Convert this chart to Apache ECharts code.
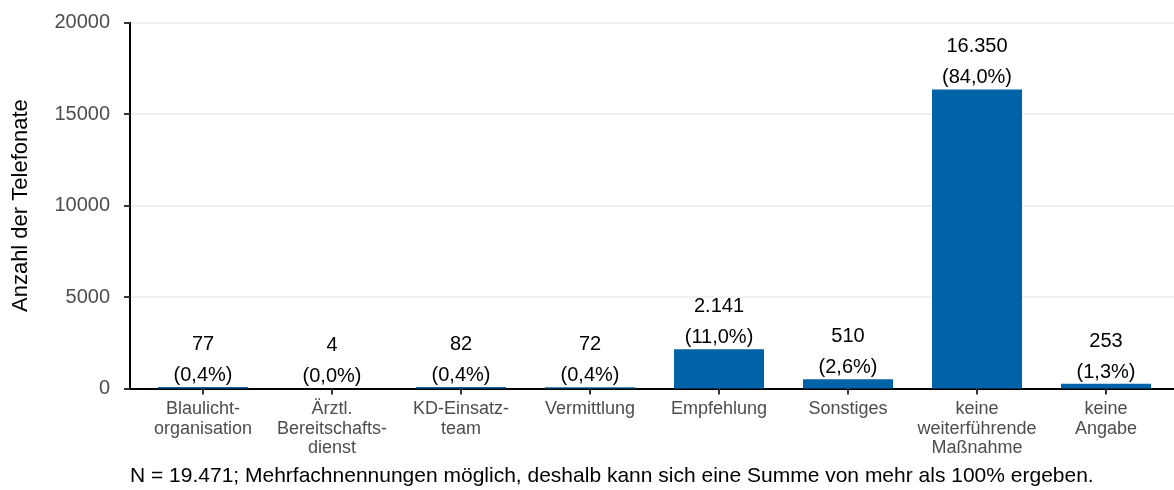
<!DOCTYPE html>
<html>
<head>
<meta charset="utf-8">
<script src="https://cdn.jsdelivr.net/npm/echarts@6/dist/echarts.min.js"></script>
<style>
  html, body { margin: 0; padding: 0; background: #fff; }
  #chart { width: 1174px; height: 490px; }
</style>
</head>
<body>
<div id="chart"></div>
<script>
var categories = [
  'Blaulicht-\norganisation',
  'Ärztl.\nBereitschafts-\ndienst',
  'KD-Einsatz-\nteam',
  'Vermittlung',
  'Empfehlung',
  'Sonstiges',
  'keine\nweiterführende\nMaßnahme',
  'keine\nAngabe'
];
var counts = [77, 4, 82, 72, 2141, 510, 16350, 253];
var yTicks = [0, 5000, 10000, 15000, 20000];
var totalN = 19471;
var footnote = 'N = 19.471; Mehrfachnennungen möglich, deshalb kann sich eine Summe von mehr als 100% ergeben.';

var fontFamily = '"Liberation Sans", Arial, sans-serif';

// 16350 -> "16.350"
function fmtCount(v) {
  return String(v).replace(/\B(?=(\d{3})+(?!\d))/g, '.');
}
// share of all calls, german decimal comma
function fmtPct(v) {
  return (v / totalN * 100).toFixed(1).replace('.', ',') + '%';
}

var positions = categories.map(function (c, i) { return i + 1; });

var chart = echarts.init(document.getElementById('chart'));

var option = {
  animation: false,
  textStyle: { fontFamily: fontFamily },
  grid: { left: 130, right: 0, top: 22.7, bottom: 490 - 388.5, outerBoundsMode: 'none', containLabel: false },
  xAxis: {
    type: 'value',
    min: 0.434,
    max: 8.527,
    axisLine: { show: true, onZero: false, lineStyle: { color: '#000', width: 2 } },
    axisTick: { show: true, customValues: positions, length: 6, lineStyle: { color: '#333', width: 2 } },
    splitLine: { show: false },
    axisLabel: {
      customValues: positions,
      formatter: function (v) { return categories[Math.round(v) - 1]; },
      color: '#4d4d4d',
      fontSize: 18,
      lineHeight: 19.5,
      margin: 11,
      verticalAlign: 'top',
      fontFamily: fontFamily
    }
  },
  yAxis: {
    type: 'value',
    min: yTicks[0],
    max: yTicks[yTicks.length - 1],
    interval: yTicks[1] - yTicks[0],
    name: 'Anzahl der Telefonate',
    nameLocation: 'middle',
    nameGap: 98,
    nameTextStyle: { color: '#000', fontSize: 22, fontFamily: fontFamily },
    axisLine: { show: true, lineStyle: { color: '#000', width: 2 } },
    axisTick: { show: true, length: 6, lineStyle: { color: '#333', width: 2 } },
    splitLine: { show: true, lineStyle: { color: '#ebebeb', width: 1.5 } },
    axisLabel: {
      color: '#4d4d4d',
      fontSize: 20,
      margin: 20,
      fontFamily: fontFamily,
      formatter: function (v) { return String(v); }
    }
  },
  series: [{
    type: 'bar',
    barWidth: 90,
    itemStyle: { color: '#0063a7' },
    data: counts.map(function (v, i) { return [positions[i], v]; }),
    label: {
      show: true,
      position: 'top',
      distance: 4,
      offset: [0, 8],
      color: '#000',
      fontSize: 20,
      lineHeight: 31,
      fontFamily: fontFamily,
      formatter: function (p) {
        var v = counts[p.dataIndex];
        return fmtCount(v) + '\n(' + fmtPct(v) + ')';
      }
    }
  }],
  graphic: [{
    type: 'text',
    left: 130,
    top: 466,
    style: { text: footnote, fill: '#000', fontSize: 21, fontFamily: fontFamily }
  }]
};

chart.setOption(option);
</script>
</body>
</html>
